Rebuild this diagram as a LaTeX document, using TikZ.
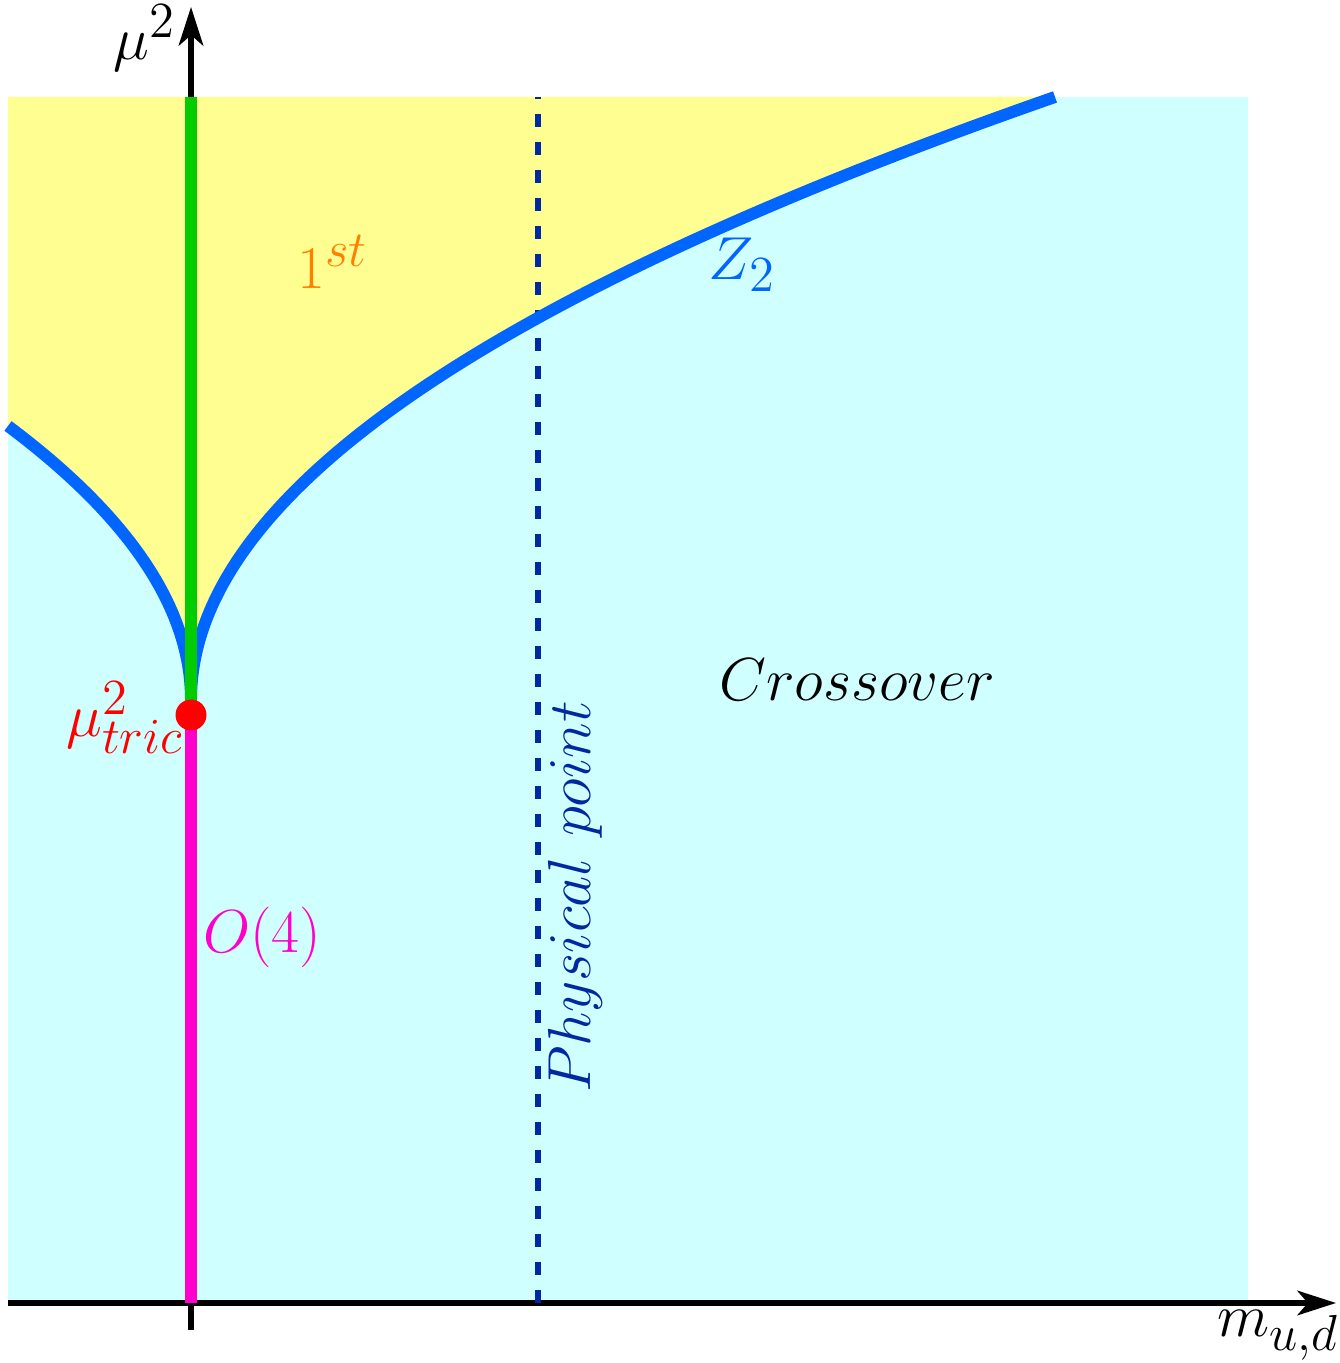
\documentclass[tikz,border=0pt]{standalone}
\usetikzlibrary{arrows.meta}
\definecolor{bgyellow}{RGB}{255,255,145}
\definecolor{bgcyan}{RGB}{208,255,255}
\definecolor{zblue}{RGB}{0,102,255}
\definecolor{fgreen}{RGB}{0,204,0}
\definecolor{omag}{RGB}{255,0,204}
\definecolor{dnavy}{RGB}{0,40,160}
\definecolor{forange}{RGB}{255,128,0}
\begin{document}
\begin{tikzpicture}[
  lbl/.style={inner sep=0pt, font=\fontsize{19}{23}\selectfont},
  axisline/.style={line width=1.5pt, -{Stealth[length=11pt,width=7pt,inset=3pt]}},
  thickline/.style={line width=3.2pt},
  curveline/.style={line width=3.4pt, zblue}
]
\useasboundingbox (0,0) rectangle (13.40,13.63);
% key points
\coordinate (vtx) at (1.91,6.63);
\coordinate (rend) at (10.55,12.66);
\coordinate (lend) at (0.08,9.37);
\coordinate (ytop) at (1.91,12.66);
\coordinate (ybot) at (1.91,0.60);
\coordinate (tric) at (1.91,6.48);
% backgrounds
\fill[bgcyan] (0.08,0.60) rectangle (12.48,12.66);
\fill[bgyellow] (0.08,12.66) -- (lend) .. controls (1.30,8.457) and (1.91,7.543) .. (vtx)
  .. controls (1.91,8.64) and (4.79,10.65) .. (rend) -- cycle;
% axes
\coordinate (xa0) at (0.08,0.60);
\coordinate (xa1) at (13.36,0.60);
\coordinate (ya0) at (1.91,0.33);
\coordinate (ya1) at (1.91,13.56);
\draw[axisline] (xa0) -- (xa1);
\draw[axisline] (ya0) -- (ya1);
% physical point
\coordinate (pp0) at (5.38,0.60);
\coordinate (pp1) at (5.38,12.66);
\draw[dnavy, line width=1.7pt, dash pattern=on 0.13cm off 0.15cm] (pp0) -- (pp1);
% lines
\draw[curveline] (lend) .. controls (1.30,8.457) and (1.91,7.543) .. (vtx);
\draw[curveline] (vtx) .. controls (1.91,8.64) and (4.79,10.65) .. (rend);
\draw[thickline, fgreen] (ytop) -- (tric);
\draw[thickline, omag] (tric) -- (ybot);
\fill[red] (tric) circle (0.155);
% labels
\node[lbl] (lmu) at (1.45,13.25) {$\mu^2$};
\node[lbl] (lm) at (12.78,0.28) {$m_{u,d}$};
\node[lbl, text=forange] (lfirst) at (3.33,11.01) {$1^{st}$};
\node[lbl, text=zblue] (lz) at (7.42,10.98) {$Z_2$};
\node[lbl] (lcross) at (8.57,6.83) {$Crossover$};
\node[lbl, text=red] (ltric) at (1.25,6.45) {$\mu^2_{tric}$};
\node[lbl, text=omag] (lo) at (2.62,4.26) {$O(4)$};
\node[lbl, text=dnavy, rotate=90] (lpp) at (5.75,4.66) {$Physical\ point$};
\end{tikzpicture}
\end{document}
